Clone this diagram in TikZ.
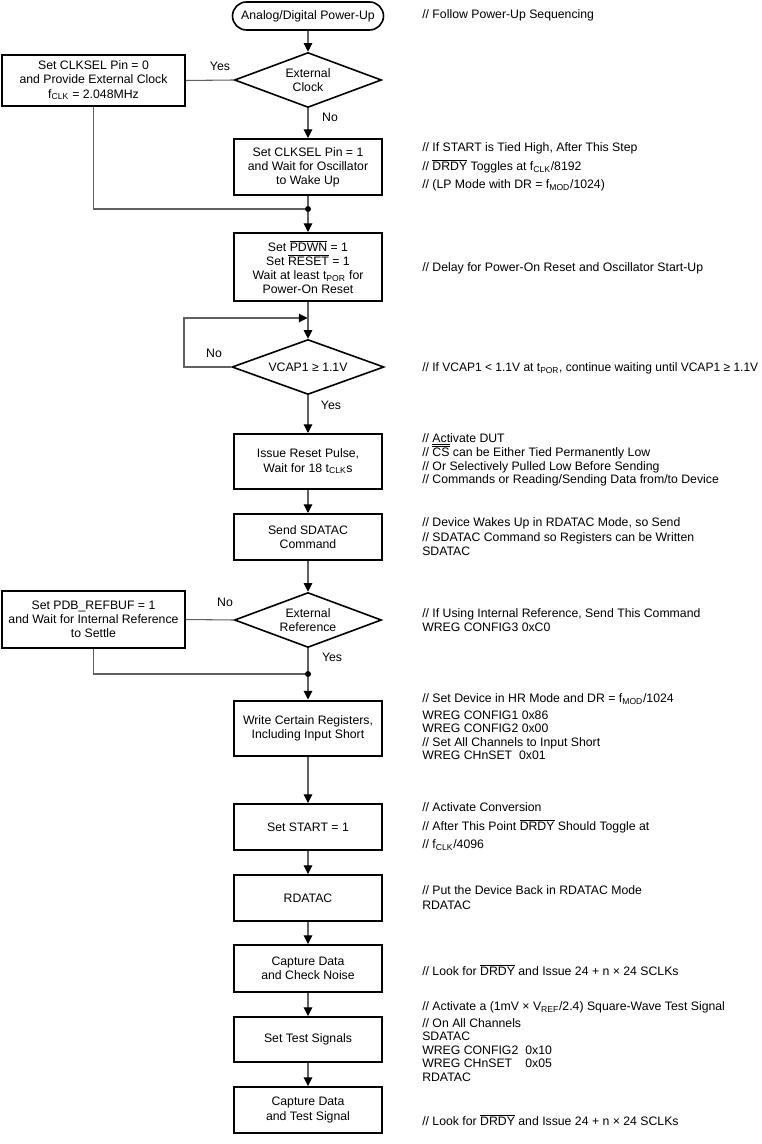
\documentclass[tikz,border=0pt]{standalone}
\usepackage{fontspec}
\setmainfont{Liberation Sans}
\usetikzlibrary{shapes.geometric,arrows.meta}
\newcommand\ovl[1]{$\overline{\hbox{#1}}$}
\newcommand\tsb[1]{\textsubscript{#1}}
\definecolor{conncol}{HTML}{606060}
\begin{document}
\begin{tikzpicture}[x=0.75pt,y=-0.75pt,
  every node/.style={font=\fontsize{9.2pt}{10.6pt}\selectfont, text=black},
  box/.style={draw=black, line width=1.5pt, rectangle, align=center, inner sep=0pt, minimum width=111pt},
  lbox/.style={draw=black, line width=1.5pt, rectangle, align=center, inner sep=0pt, minimum width=137.25pt},
  dia/.style={draw=black, line width=1.2pt, diamond, aspect=2.67, align=center, inner sep=0pt, minimum width=110.25pt, minimum height=41.25pt},
  term/.style={draw=black, line width=1.2pt, rectangle, rounded corners=10.5pt, align=center, inner sep=0pt, minimum width=113.25pt, minimum height=21pt},
  cmt/.style={anchor=west, inner sep=0pt, text height=6.6pt, text depth=0pt},
  lbl/.style={inner sep=0pt},
  conn/.style={draw=conncol, line width=0.8pt},
  arr/.style={-{Triangle[width=6.5pt,length=6.5pt]}, arrows={[color=black]}},
  dotn/.style={circle, fill=black, inner sep=0pt, minimum size=4.5pt}
]
\useasboundingbox (0,0) rectangle (762,1144);

% main column
\node[term] (start) at (308,16) {Analog/Digital Power-Up};
\node[dia] (d1) at (308,80) {External\\Clock};
\node[lbox, minimum height=38.25pt] (bL1) at (93.5,80.5) {Set CLKSEL Pin = 0\\and Provide External Clock\\f\tsb{CLK} = 2.048MHz};
\node[box, minimum height=42pt] (b2) at (308,167) {Set CLKSEL Pin = 1\\and Wait for Oscillator\\to Wake Up};
\node[dotn] (dot1) at (308,209) {};
\node[box, minimum height=51pt] (b3) at (308,267) {Set \ovl{PDWN} = 1\\Set \ovl{RESET} = 1\\Wait at least t\tsb{POR} for\\Power-On Reset};
\node[dia, minimum width=114pt] (d2) at (308,367) {VCAP1 ≥ 1.1V};
\node[box, minimum height=41.25pt] (b4) at (308,461.5) {Issue Reset Pulse,\\Wait for 18 t\tsb{CLK}s};
\node[box, minimum height=34.5pt] (b5) at (308,537) {Send SDATAC\\Command};
\node[dia] (d3) at (308,620) {External\\Reference};
\node[lbox, minimum height=42.75pt] (bL2) at (93.5,619.5) {Set PDB\_REFBUF = 1\\and Wait for Internal Reference\\to Settle};
\node[dotn] (dot2) at (308,674) {};
\node[box, minimum height=41.25pt] (b6) at (308,728) {Write Certain Registers,\\Including Input Short};
\node[box, minimum height=34.5pt] (b7) at (308,827) {Set START = 1};
\node[box, minimum height=34.5pt] (b8) at (308,898) {RDATAC};
\node[box, minimum height=35.25pt] (b9) at (308,968.5) {Capture Data\\and Check Noise};
\node[box, minimum height=33.75pt] (b10) at (308,1039.5) {Set Test Signals};
\node[box, minimum height=34.5pt] (b11) at (308,1110) {Capture Data\\and Test Signal};

% labels
\node[lbl] (y1) at (220,66) {Yes};
\node[lbl] (n1) at (330,117) {No};
\node[lbl] (n2) at (214,353) {No};
\node[lbl] (y2) at (331,405) {Yes};
\node[lbl] (n3) at (225,602) {No};
\node[lbl] (y3) at (332,657) {Yes};

% connectors
\draw[conn,arr] (start.south) -- (d1.north);
\draw[conn] (d1.west) -- (bL1.east);
\draw[conn,arr] (d1.south) -- (b2.north);
\draw[conn] (b2.south) -- (dot1);
\draw[conn] (bL1.south) |- (dot1);
\draw[conn,arr] (dot1) -- (b3.north);
\draw[conn,arr] (b3.south) -- (d2.north);
\coordinate (lpa) at (184,367);
\coordinate (lpb) at (184,318);
\coordinate (lpc) at (307.5,318);
\draw[conn,arr] (d2.west) -- (lpa) -- (lpb) -- (lpc);
\draw[conn,arr] (d2.south) -- (b4.north);
\draw[conn,arr] (b4.south) -- (b5.north);
\draw[conn,arr] (b5.south) -- (d3.north);
\draw[conn] (d3.west) -- (bL2.east);
\draw[conn] (d3.south) -- (dot2);
\draw[conn] (bL2.south) |- (dot2);
\draw[conn,arr] (dot2) -- (b6.north);
\draw[conn,arr] (b6.south) -- (b7.north);
\draw[conn,arr] (b7.south) -- (b8.north);
\draw[conn,arr] (b8.south) -- (b9.north);
\draw[conn,arr] (b9.south) -- (b10.north);
\draw[conn,arr] (b10.south) -- (b11.north);

% comments
\node[cmt] (c0) at (422,14) {// Follow Power-Up Sequencing};
\node[cmt] (c1) at (422,147) {// If START is Tied High, After This Step};
\node[cmt] (c2) at (422,166) {// \ovl{DRDY} Toggles at f\tsb{CLK}/8192};
\node[cmt] (c3) at (422,184) {// (LP Mode with DR = f\tsb{MOD}/1024)};
\node[cmt] (c4) at (422,267) {// Delay for Power-On Reset and Oscillator Start-Up};
\node[cmt] (c5) at (422,367) {\resizebox{252pt}{\height}{// If VCAP1 < 1.1V at t\tsb{POR}, continue waiting until VCAP1 ≥ 1.1V}};
\node[cmt] (c6) at (422,438) {// \underline{Act}ivate DUT};
\node[cmt] (c7) at (422,452) {// \ovl{CS} can be Either Tied Permanently Low};
\node[cmt] (c8) at (422,466) {// Or Selectively Pulled Low Before Sending};
\node[cmt] (c9) at (422,479) {// Commands or Reading/Sending Data from/to Device};
\node[cmt] (c10) at (422,522) {// Device Wakes Up in RDATAC Mode, so Send};
\node[cmt] (c11) at (422,537) {// SDATAC Command so Registers can be Written};
\node[cmt] (c12) at (422,551) {SDATAC};
\node[cmt] (c13) at (422,613) {// If Using Internal Reference, Send This Command};
\node[cmt] (c14) at (422,627) {WREG CONFIG3 0xC0};
\node[cmt] (c15) at (422,698) {// Set Device in HR Mode and DR = f\tsb{MOD}/1024};
\node[cmt] (c16) at (422,715) {WREG CONFIG1 0x86};
\node[cmt] (c17) at (422,728) {WREG CONFIG2 0x00};
\node[cmt] (c18) at (422,742) {// Set All Channels to Input Short};
\node[cmt] (c19) at (422,755) {WREG CHnSET\ \ 0x01};
\node[cmt] (c20) at (422,807) {// Activate Conversion};
\node[cmt] (c21) at (422,826) {// After This Point \ovl{DRDY} Should Toggle at};
\node[cmt] (c22) at (422,844) {// f\tsb{CLK}/4096};
\node[cmt] (c23) at (422,890) {// Put the Device Back in RDATAC Mode};
\node[cmt] (c24) at (422,905) {RDATAC};
\node[cmt] (c25) at (422,971) {// Look for \ovl{DRDY} and Issue 24 + n × 24 SCLKs};
\node[cmt] (c26) at (422,1006) {// Activate a (1mV × V\tsb{REF}/2.4) Square-Wave Test Signal};
\node[cmt] (c27) at (422,1023) {// On All Channels};
\node[cmt] (c28) at (422,1036) {SDATAC};
\node[cmt] (c29) at (422,1050) {\makebox[8.4em][l]{WREG CONFIG2}0x10};
\node[cmt] (c30) at (422,1063) {\makebox[8.4em][l]{WREG CHnSET}0x05};
\node[cmt] (c31) at (422,1077) {RDATAC};
\node[cmt] (c32) at (422,1121) {// Look for \ovl{DRDY} and Issue 24 + n × 24 SCLKs};
\end{tikzpicture}
\end{document}
